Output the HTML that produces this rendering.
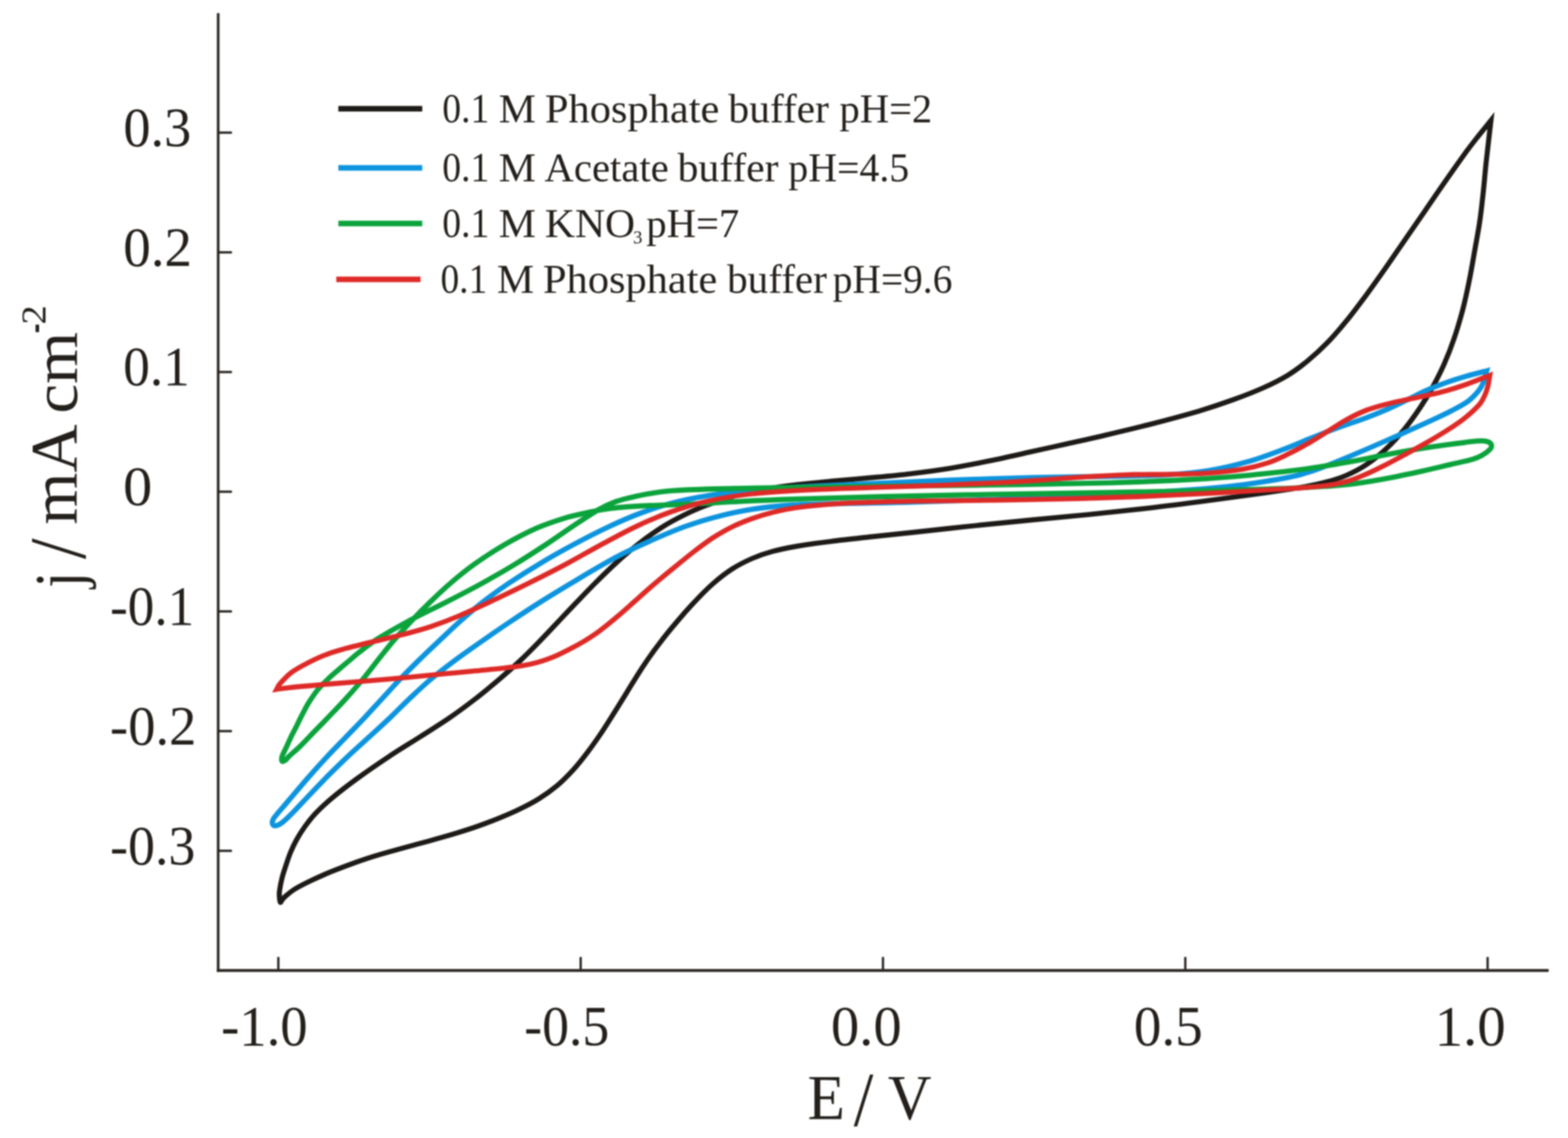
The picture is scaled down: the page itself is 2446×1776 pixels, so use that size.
<!DOCTYPE html>
<html lang="en"><head><meta charset="utf-8"><title>Cyclic voltammograms</title>
<style>html,body{margin:0;padding:0;background:#fff}body{width:2446px;height:1776px;overflow:hidden}svg{display:block}text{font-family:"Liberation Serif","DejaVu Serif",serif;font-size:100px;fill:#231f1b}.c{fill:none;stroke-linejoin:miter;stroke-miterlimit:10;stroke-linecap:butt}</style></head><body>
<svg xmlns="http://www.w3.org/2000/svg" width="2446" height="1776" viewBox="0 0 2446 1776">
<defs><filter id="soft" x="0" y="0" width="2446" height="1776" filterUnits="userSpaceOnUse" color-interpolation-filters="sRGB"><feGaussianBlur stdDeviation="1.00"/></filter></defs>
<rect width="2446" height="1776" fill="#fff"/>
<g filter="url(#soft)">
<rect width="2446" height="1776" fill="#fff"/>
<g fill="#2a2622">
<rect x="338.30" y="20.50" width="4.10" height="1496.30"/>
<rect x="338.30" y="1512.30" width="2077.50" height="4.50"/>
<rect x="341.90" y="205.20" width="19.90" height="3.60"/>
<rect x="341.90" y="392.00" width="19.90" height="3.60"/>
<rect x="341.90" y="578.80" width="19.90" height="3.60"/>
<rect x="341.90" y="765.60" width="19.90" height="3.60"/>
<rect x="341.90" y="952.40" width="19.90" height="3.60"/>
<rect x="341.90" y="1139.20" width="19.90" height="3.60"/>
<rect x="341.90" y="1326.00" width="19.90" height="3.60"/>
<rect x="432.40" y="1493.50" width="3.60" height="19.30"/>
<rect x="904.00" y="1493.50" width="3.60" height="19.30"/>
<rect x="1375.60" y="1493.50" width="3.60" height="19.30"/>
<rect x="1847.20" y="1493.50" width="3.60" height="19.30"/>
<rect x="2318.80" y="1493.50" width="3.60" height="19.30"/>
</g>
<g class="c">
<path stroke="#1d1a17" stroke-width="7.90" d="M2325.8 188.0C2324.6 198.8 2320.4 234.1 2318.4 252.6C2316.4 271.1 2315.6 283.5 2313.9 298.9C2312.2 314.3 2310.7 329.8 2308.4 345.2C2306.2 360.6 2303.1 376.1 2300.4 391.5C2297.7 406.9 2295.1 422.4 2292.0 437.8C2288.9 453.1 2285.6 468.7 2281.7 483.7C2277.7 498.7 2273.3 513.8 2268.4 528.0C2263.6 542.2 2258.2 556.0 2252.6 568.6C2247.0 581.3 2241.1 592.7 2234.9 604.0C2228.8 615.2 2222.7 625.1 2215.6 635.8C2208.4 646.6 2200.6 657.7 2191.9 668.4C2183.1 679.1 2172.9 690.5 2162.9 699.9C2153.0 709.3 2142.3 717.9 2132.0 724.8C2121.7 731.8 2111.4 737.0 2101.1 741.5C2090.8 746.0 2081.9 748.8 2070.3 751.9C2058.8 755.1 2048.5 757.3 2031.8 760.2C2015.1 763.2 1994.5 766.2 1970.0 769.7C1945.6 773.2 1914.7 777.3 1885.1 781.1C1855.5 785.0 1823.5 789.2 1792.5 792.8C1761.6 796.4 1729.4 799.8 1699.6 802.9C1669.8 805.9 1639.7 808.5 1613.8 811.0C1587.8 813.5 1565.8 815.7 1543.8 818.0C1521.8 820.2 1502.6 822.3 1482.1 824.5C1461.5 826.8 1440.9 829.0 1420.3 831.2C1399.8 833.4 1379.2 835.5 1358.7 837.7C1338.1 840.0 1316.2 842.3 1297.0 844.8C1277.7 847.2 1258.4 849.9 1242.9 852.5C1227.5 855.2 1215.9 857.6 1204.3 860.8C1192.8 863.9 1183.8 867.0 1173.5 871.5C1163.2 876.0 1152.9 881.1 1142.6 887.7C1132.3 894.3 1121.8 902.5 1111.7 911.4C1101.6 920.2 1091.5 930.9 1082.1 940.8C1072.8 950.7 1064.2 960.5 1055.5 970.9C1046.7 981.2 1038.0 991.8 1029.7 1002.8C1021.3 1013.7 1012.6 1026.0 1005.4 1036.7C998.1 1047.3 992.2 1057.2 986.3 1066.7C980.4 1076.2 975.5 1084.5 969.9 1093.4C964.4 1102.3 958.9 1111.2 953.2 1120.1C947.6 1129.0 941.9 1138.0 935.9 1146.9C929.8 1155.8 923.6 1164.7 916.8 1173.6C910.1 1182.5 903.1 1191.6 895.2 1200.3C887.3 1209.0 878.6 1217.9 869.5 1225.7C860.3 1233.4 850.2 1240.6 840.2 1246.8C830.2 1253.1 819.9 1258.2 809.5 1263.2C799.1 1268.3 788.5 1272.7 777.8 1277.1C767.0 1281.5 756.0 1285.6 745.0 1289.5C734.0 1293.4 723.1 1296.8 711.8 1300.2C700.4 1303.7 688.9 1306.9 677.0 1310.2C665.1 1313.6 651.9 1317.1 640.5 1320.2C629.1 1323.4 618.4 1326.2 608.6 1329.0C598.8 1331.7 591.6 1333.8 582.0 1336.8C572.4 1339.9 562.1 1343.3 551.1 1347.2C540.1 1351.2 526.9 1356.1 515.8 1360.7C504.6 1365.3 493.5 1370.4 484.2 1374.8C474.9 1379.3 466.5 1383.5 460.0 1387.5C453.5 1391.5 448.7 1395.9 445.3 1398.8C441.9 1401.7 441.1 1403.4 439.8 1405.0C438.5 1406.6 438.0 1409.0 437.3 1408.2C436.6 1407.4 436.1 1403.0 435.9 1400.0C435.7 1397.0 435.4 1395.0 436.1 1390.0C436.8 1385.0 438.3 1376.7 440.0 1370.0C441.7 1363.3 444.0 1356.7 446.2 1350.0C448.4 1343.3 450.5 1336.7 453.3 1330.0C456.1 1323.3 459.2 1316.7 462.9 1310.0C466.6 1303.3 470.8 1296.7 475.6 1290.0C480.4 1283.3 484.8 1277.3 491.7 1270.0C498.6 1262.7 506.1 1255.4 517.0 1246.2C527.9 1237.1 542.4 1225.8 557.2 1215.0C572.1 1204.2 589.6 1192.1 606.0 1181.2C622.3 1170.4 639.2 1160.2 655.2 1150.0C671.1 1139.8 687.1 1130.0 701.6 1120.0C716.2 1110.0 729.6 1099.9 742.4 1090.0C755.2 1080.1 766.8 1070.3 778.4 1060.5C789.9 1050.7 800.8 1041.0 811.5 1031.0C822.1 1021.0 832.2 1010.7 842.1 1000.5C852.0 990.3 861.5 980.1 871.0 970.0C880.5 959.9 889.8 950.0 899.4 940.0C909.0 930.0 918.4 920.1 928.5 910.0C938.6 899.9 948.8 889.7 960.0 879.5C971.2 869.3 983.6 858.5 995.8 849.0C1007.9 839.5 1021.1 830.2 1033.0 822.6C1045.0 815.0 1056.1 809.2 1067.7 803.5C1079.2 797.7 1090.6 793.0 1102.7 788.4C1114.7 783.8 1127.9 779.2 1139.7 775.6C1151.5 772.0 1162.7 769.4 1173.5 767.1C1184.2 764.8 1192.8 763.4 1204.3 761.7C1215.9 759.9 1227.5 758.3 1242.9 756.5C1258.4 754.8 1277.7 752.9 1296.9 751.0C1316.2 749.2 1338.1 747.5 1358.7 745.5C1379.2 743.6 1399.8 741.8 1420.3 739.3C1440.9 736.8 1461.5 734.1 1482.0 730.8C1502.6 727.4 1523.2 723.4 1543.8 719.2C1564.4 715.0 1586.2 710.0 1605.6 705.7C1625.0 701.5 1641.8 697.6 1660.0 693.6C1678.3 689.5 1692.9 686.5 1715.0 681.3C1737.1 676.1 1766.8 669.2 1792.6 662.6C1818.4 656.0 1847.9 648.1 1869.8 641.7C1891.6 635.2 1907.0 629.9 1923.8 623.8C1940.5 617.8 1955.9 611.8 1970.1 605.5C1984.2 599.2 1997.0 592.8 2008.6 585.8C2020.2 578.8 2029.2 571.9 2039.5 563.5C2049.8 555.0 2060.1 545.7 2070.4 535.1C2080.7 524.5 2090.9 512.4 2101.2 499.8C2111.5 487.1 2121.8 473.2 2132.1 459.3C2142.4 445.3 2152.7 430.7 2163.0 416.0C2173.3 401.3 2183.5 386.3 2193.8 371.3C2204.1 356.4 2214.4 341.4 2224.7 326.4C2235.0 311.4 2245.3 296.2 2255.6 281.5C2265.9 266.8 2278.0 249.5 2286.4 238.0C2294.8 226.5 2299.4 220.8 2306.0 212.5C2312.6 204.2 2322.5 192.1 2325.8 188.0Z"/>
<path stroke="#0d94de" stroke-width="8.10" d="M2319.0 578.8C2318.1 582.0 2315.8 592.6 2313.5 598.0C2311.2 603.4 2309.4 606.5 2305.5 611.2C2301.6 615.9 2296.9 621.2 2290.0 626.2C2283.1 631.2 2273.8 636.0 2264.2 641.1C2254.7 646.1 2245.0 650.5 2232.4 656.4C2219.8 662.2 2205.4 668.7 2188.7 676.1C2171.9 683.5 2150.5 693.0 2132.1 700.9C2113.6 708.8 2093.5 717.3 2078.1 723.4C2062.6 729.5 2051.1 733.9 2039.5 737.5C2027.9 741.2 2020.2 742.9 2008.6 745.3C1997.0 747.7 1985.5 749.6 1970.0 751.9C1954.6 754.3 1937.1 756.9 1916.0 759.2C1895.0 761.4 1875.6 763.3 1843.7 765.4C1811.7 767.6 1771.1 769.7 1724.5 771.9C1678.0 774.2 1615.1 777.0 1564.4 779.0C1513.7 780.9 1462.2 782.7 1420.2 783.8C1378.2 785.0 1343.1 785.2 1312.2 785.9C1281.4 786.7 1258.3 786.6 1235.1 788.1C1212.0 789.6 1193.2 791.7 1173.4 794.8C1153.7 797.9 1134.3 802.2 1116.7 806.8C1099.1 811.3 1084.3 816.1 1067.8 822.0C1051.4 828.0 1034.0 835.5 1018.0 842.5C1001.9 849.5 985.5 857.2 971.5 864.2C957.6 871.2 947.7 876.9 934.4 884.5C921.0 892.1 906.7 900.8 891.3 910.0C876.0 919.2 858.1 930.0 842.3 940.0C826.5 950.0 811.3 960.0 796.3 970.0C781.4 980.0 766.9 990.0 752.6 1000.0C738.3 1010.0 723.9 1020.0 710.5 1030.0C697.1 1040.0 684.0 1050.0 672.1 1060.0C660.2 1070.0 649.8 1080.0 639.2 1090.0C628.6 1100.0 619.1 1110.0 608.6 1120.0C598.0 1130.0 587.1 1139.8 576.0 1150.0C564.8 1160.2 553.2 1170.4 541.8 1181.2C530.3 1192.1 518.2 1204.0 507.4 1215.0C496.5 1226.0 485.4 1238.0 476.6 1247.2C467.8 1256.5 460.7 1264.3 454.6 1270.4C448.6 1276.4 444.2 1280.6 440.5 1283.5C436.8 1286.4 434.8 1287.2 432.5 1288.0C430.2 1288.8 428.3 1288.8 427.0 1288.2C425.7 1287.6 425.0 1286.0 424.8 1284.5C424.6 1283.0 425.1 1281.0 426.0 1279.0C426.9 1277.0 426.6 1277.3 430.5 1272.5C434.4 1267.7 441.5 1259.6 449.7 1250.0C457.9 1240.4 469.5 1226.5 479.5 1215.0C489.5 1203.5 499.8 1192.1 509.9 1181.2C519.9 1170.4 530.1 1160.2 539.9 1150.0C549.7 1139.8 559.4 1130.0 568.8 1120.0C578.2 1110.0 587.1 1100.0 596.4 1090.0C605.6 1080.0 614.5 1070.0 624.0 1060.0C633.6 1050.0 643.6 1040.0 653.8 1030.0C664.0 1020.0 674.6 1010.0 685.2 1000.0C695.8 990.0 706.1 980.0 717.3 970.0C728.6 960.0 739.8 950.0 752.6 940.0C765.4 930.0 779.2 920.0 794.0 910.0C808.9 900.0 824.9 889.9 841.7 879.9C858.5 869.8 877.0 859.4 894.9 849.8C912.8 840.1 931.8 830.4 949.4 822.1C966.9 813.9 983.6 806.6 1000.4 800.4C1017.2 794.1 1032.4 789.2 1050.0 784.7C1067.6 780.1 1085.8 776.5 1105.9 773.2C1126.0 770.0 1146.4 767.5 1170.5 765.2C1194.7 763.0 1219.3 761.5 1250.6 759.8C1282.0 758.0 1320.0 756.4 1358.6 754.7C1397.2 752.9 1440.0 750.9 1482.1 749.4C1524.1 747.8 1569.1 746.4 1610.8 745.4C1652.5 744.4 1697.2 744.1 1732.2 743.4C1767.1 742.6 1794.8 742.4 1820.2 740.9C1845.7 739.4 1863.9 737.8 1885.0 734.4C1906.1 731.0 1927.6 725.9 1946.9 720.4C1966.2 715.0 1985.5 707.5 2000.9 701.7C2016.4 696.0 2027.9 690.7 2039.5 686.1C2051.1 681.4 2060.1 677.8 2070.3 673.8C2080.6 669.9 2090.8 666.2 2101.1 662.5C2111.4 658.8 2121.7 655.6 2132.0 651.7C2142.3 647.8 2152.6 643.7 2162.9 639.2C2173.3 634.7 2183.5 629.6 2193.8 624.6C2204.1 619.7 2214.4 614.1 2224.7 609.5C2235.0 604.9 2245.3 601.0 2255.6 597.3C2265.9 593.6 2275.8 590.5 2286.4 587.4C2297.0 584.3 2313.6 580.2 2319.0 578.8Z"/>
<path stroke="#0ba33c" stroke-width="8.10" d="M440.0 1187.8C439.2 1186.7 439.0 1183.8 440.2 1180.0C441.4 1176.2 444.9 1170.0 447.2 1165.0C449.5 1160.0 451.4 1155.4 454.0 1150.0C456.6 1144.6 460.0 1138.3 462.8 1132.8C465.5 1127.2 467.5 1122.8 470.6 1116.9C473.7 1111.0 477.1 1103.9 481.2 1097.2C485.4 1090.6 490.3 1083.0 495.4 1076.8C500.4 1070.5 506.0 1065.1 511.5 1059.8C517.0 1054.4 523.0 1049.5 528.5 1044.8C534.0 1040.0 538.9 1036.0 544.2 1031.5C549.6 1027.0 553.1 1023.5 560.5 1017.8C568.0 1012.0 576.2 1005.1 589.0 997.0C601.9 988.9 620.0 978.6 637.8 969.0C655.7 959.4 677.0 949.4 696.1 939.6C715.2 929.8 734.1 920.2 752.1 910.2C770.2 900.3 787.7 890.2 804.2 880.1C820.7 870.1 836.2 860.0 851.4 850.0C866.6 840.0 881.9 829.0 895.6 819.9C909.3 810.8 923.0 801.5 933.8 795.4C944.6 789.2 952.0 786.0 960.4 782.9C968.7 779.7 975.2 778.6 983.8 776.5C992.5 774.4 1002.4 772.1 1012.3 770.5C1022.3 768.8 1033.3 767.3 1043.4 766.3C1053.6 765.3 1061.8 764.9 1073.3 764.4C1084.8 763.9 1093.3 763.6 1112.1 763.1C1130.9 762.7 1150.0 762.2 1186.0 761.6C1222.0 761.0 1269.9 760.3 1327.8 759.5C1385.8 758.8 1466.3 758.0 1533.7 757.0C1601.0 756.0 1675.4 755.1 1732.2 753.5C1789.0 751.8 1834.8 749.7 1874.5 747.4C1914.1 745.1 1942.5 742.1 1970.0 739.5C1997.5 736.8 2017.6 734.4 2039.5 731.5C2061.3 728.5 2080.5 725.2 2101.1 721.6C2121.7 718.0 2143.2 713.3 2162.9 709.6C2182.7 705.9 2202.9 702.3 2219.6 699.6C2236.3 696.9 2250.5 695.1 2263.4 693.3C2276.3 691.5 2288.8 689.9 2296.9 689.0C2305.1 688.1 2308.2 687.9 2312.3 688.0C2316.5 688.1 2319.4 688.7 2321.8 689.8C2324.2 690.9 2326.2 692.7 2326.6 694.6C2327.0 696.5 2326.9 698.4 2324.5 701.0C2322.1 703.6 2316.9 707.7 2312.3 710.3C2307.7 712.9 2305.1 714.4 2296.9 716.8C2288.8 719.2 2276.3 721.7 2263.4 724.8C2250.5 727.8 2236.3 731.3 2219.6 735.0C2202.9 738.7 2182.7 743.2 2162.9 746.7C2143.2 750.2 2125.6 753.6 2101.1 756.1C2076.7 758.7 2051.5 760.2 2016.2 761.8C1981.0 763.3 1937.2 764.4 1889.9 765.5C1842.5 766.7 1789.0 767.6 1732.2 768.6C1675.4 769.5 1608.7 770.4 1549.1 771.5C1489.4 772.6 1425.1 773.9 1374.0 775.1C1323.0 776.4 1279.4 777.7 1242.9 778.9C1206.4 780.1 1178.9 781.3 1155.1 782.5C1131.3 783.6 1115.9 784.7 1100.3 785.5C1084.7 786.3 1073.3 786.9 1061.2 787.4C1049.2 787.9 1038.7 788.1 1027.8 788.5C1016.8 788.9 1006.0 789.3 995.4 789.9C984.8 790.5 973.5 791.3 964.2 792.1C955.0 793.0 948.2 793.9 940.0 795.2C931.8 796.6 925.0 798.0 915.0 800.2C905.0 802.5 893.1 804.8 880.1 808.8C867.2 812.8 852.4 817.5 837.0 824.2C821.7 831.0 804.0 840.2 788.0 849.5C772.0 858.8 755.2 869.7 741.0 879.8C726.9 889.8 714.6 900.0 702.9 910.0C691.2 920.0 680.9 930.0 670.6 940.0C660.3 950.0 650.4 960.0 641.0 970.0C631.5 980.0 622.4 990.0 613.8 1000.0C605.3 1010.0 597.6 1020.0 589.6 1030.0C581.7 1040.0 574.3 1050.0 566.0 1060.0C557.8 1070.0 548.7 1080.2 539.9 1090.0C531.1 1099.8 521.5 1109.6 513.0 1118.5C504.5 1127.4 496.5 1135.5 489.0 1143.2C481.5 1151.0 474.2 1158.9 467.9 1165.0C461.6 1171.1 455.0 1176.4 451.2 1180.0C447.4 1183.6 446.9 1185.2 445.0 1186.5C443.1 1187.8 440.8 1188.9 440.0 1187.8Z"/>
<path stroke="#de2a27" stroke-width="7.80" d="M2324.0 585.8C2323.6 588.2 2322.8 595.3 2321.6 600.2C2320.4 605.1 2319.1 610.1 2317.0 615.0C2314.9 619.9 2312.8 624.7 2309.3 629.4C2305.8 634.1 2301.2 638.3 2296.2 642.9C2291.1 647.5 2285.8 652.0 2278.9 657.1C2271.9 662.2 2263.4 667.9 2254.3 673.5C2245.3 679.2 2234.8 685.4 2224.7 691.2C2214.6 697.0 2204.1 702.7 2193.8 708.3C2183.5 713.9 2173.3 719.5 2162.9 724.7C2152.6 729.9 2142.3 735.2 2132.0 739.6C2121.7 744.0 2112.7 748.1 2101.1 751.2C2089.5 754.4 2080.6 756.4 2062.6 758.5C2044.6 760.6 2021.5 761.9 1993.2 763.7C1964.9 765.5 1926.2 767.7 1892.8 769.5C1859.4 771.3 1827.3 773.0 1792.5 774.4C1757.8 775.8 1724.2 777.0 1684.1 778.0C1644.0 779.0 1596.0 779.8 1552.0 780.5C1508.0 781.2 1460.3 781.3 1420.4 782.1C1380.5 783.0 1342.0 784.0 1312.4 785.6C1282.8 787.3 1260.9 789.8 1242.9 792.1C1224.9 794.5 1215.9 797.2 1204.3 800.0C1192.8 802.8 1183.8 805.6 1173.5 809.2C1163.2 812.9 1152.8 816.9 1142.6 821.9C1132.4 826.9 1122.1 832.9 1112.3 839.1C1102.6 845.4 1093.2 852.7 1084.2 859.5C1075.3 866.3 1066.9 873.2 1058.6 880.0C1050.3 886.8 1042.2 893.3 1034.2 900.0C1026.2 906.7 1018.4 913.3 1010.8 920.0C1003.1 926.7 996.3 932.9 988.3 940.0C980.3 947.1 971.6 955.0 962.7 962.5C953.8 970.0 943.5 978.5 935.0 984.8C926.4 991.2 919.1 995.8 911.5 1000.5C903.8 1005.2 896.7 1009.0 888.8 1013.0C880.9 1017.1 872.3 1021.5 864.1 1024.9C855.9 1028.3 847.6 1031.2 839.4 1033.5C831.2 1035.8 824.0 1037.4 814.7 1038.9C805.4 1040.5 795.7 1041.5 783.7 1042.8C771.6 1044.2 756.9 1045.5 742.5 1046.9C728.1 1048.3 712.6 1049.7 697.5 1051.2C682.4 1052.7 666.9 1054.2 651.6 1055.7C636.3 1057.1 620.7 1058.6 605.7 1059.9C590.7 1061.2 575.9 1062.5 561.6 1063.7C547.3 1064.8 533.6 1065.9 520.0 1067.0C506.4 1068.1 491.7 1069.5 480.0 1070.5C468.3 1071.5 458.1 1072.4 450.0 1073.3C441.9 1074.2 434.6 1075.4 431.5 1075.8C432.1 1074.7 433.1 1071.9 435.0 1069.3C436.9 1066.7 439.9 1063.5 443.0 1060.3C446.1 1057.1 448.9 1053.7 453.5 1050.3C458.1 1046.9 464.4 1043.2 470.6 1039.7C476.8 1036.2 483.9 1032.5 490.8 1029.2C497.6 1026.0 503.4 1023.4 511.8 1020.5C520.1 1017.5 528.9 1014.9 541.0 1011.6C553.2 1008.4 569.8 1004.4 584.6 1000.8C599.4 997.2 615.1 993.8 629.8 990.0C644.4 986.2 657.9 982.7 672.5 977.8C687.1 972.8 701.8 967.2 717.6 960.5C733.5 953.8 749.6 946.2 767.5 937.8C785.4 929.3 805.5 919.7 825.0 910.0C844.6 900.3 865.5 889.7 884.6 879.5C903.7 869.3 921.8 858.6 939.7 849.0C957.7 839.4 974.7 829.9 992.4 821.6C1010.0 813.3 1026.8 805.9 1045.5 799.3C1064.3 792.7 1083.8 786.7 1104.6 782.0C1125.5 777.3 1146.2 773.8 1170.5 771.0C1194.9 768.1 1219.3 766.7 1250.6 765.0C1282.0 763.3 1321.3 762.2 1358.6 760.9C1395.9 759.5 1439.6 758.4 1474.3 757.1C1509.0 755.8 1539.9 754.4 1566.9 752.9C1594.0 751.5 1614.4 749.9 1636.4 748.4C1658.3 746.9 1677.7 745.1 1698.5 743.9C1719.3 742.6 1740.4 741.4 1761.2 740.8C1782.0 740.2 1802.8 740.7 1823.4 740.3C1844.1 739.9 1865.8 739.7 1885.1 738.3C1904.4 736.9 1923.8 734.7 1939.2 732.1C1954.6 729.4 1966.2 726.2 1977.8 722.4C1989.4 718.5 1998.3 714.0 2008.6 709.1C2018.9 704.1 2029.2 698.6 2039.5 692.7C2049.8 686.8 2060.1 680.0 2070.3 673.6C2080.6 667.3 2090.8 660.2 2101.1 654.6C2111.4 649.0 2121.7 644.0 2132.0 640.0C2142.3 636.1 2152.6 633.4 2162.9 630.7C2173.3 628.0 2183.5 626.0 2193.8 623.8C2204.1 621.6 2214.4 619.7 2224.7 617.4C2235.0 615.1 2245.3 612.9 2255.6 610.0C2265.9 607.1 2275.0 604.3 2286.4 600.3C2297.8 596.3 2317.7 588.2 2324.0 585.8Z"/>
</g>
<g>
<rect x="527.80" y="165.35" width="130.90" height="8.70" fill="#1d1a17"/>
<rect x="527.80" y="257.65" width="130.90" height="8.70" fill="#0d94de"/>
<rect x="527.80" y="344.45" width="130.90" height="8.70" fill="#0ba33c"/>
<rect x="524.60" y="431.65" width="131.40" height="8.70" fill="#de2a27"/>
</g>
<g>
<text transform="matrix(0.8470 0 0 0.8750 192.51 227.70)">0.3</text>
<text transform="matrix(0.8597 0 0 0.8750 192.16 414.50)">0.2</text>
<text transform="matrix(0.8313 0 0 0.8750 192.27 601.30)">0.1</text>
<text transform="matrix(0.9095 0 0 0.8750 191.96 788.10)">0</text>
<text transform="matrix(0.8283 0 0 0.8750 171.70 974.90)">-0.1</text>
<text transform="matrix(0.8517 0 0 0.8750 171.62 1161.70)">-0.2</text>
<text transform="matrix(0.8404 0 0 0.8750 171.66 1348.50)">-0.3</text>
<text transform="matrix(0.8523 0 0 0.8850 344.92 1630.60)">-1.0</text>
<text transform="matrix(0.8384 0 0 0.8850 817.77 1630.60)">-0.5</text>
<text transform="matrix(0.8821 0 0 0.8850 1296.27 1630.60)">0.0</text>
<text transform="matrix(0.8598 0 0 0.8850 1768.86 1630.60)">0.5</text>
<text transform="matrix(0.8875 0 0 0.8850 2237.91 1630.60)">1.0</text>
<text transform="matrix(0.9547 0 0 1.0000 1259.84 1746.00)">E</text>
<text transform="matrix(1.1018 0 0 1.2100 1331.80 1757.30)">/</text>
<text transform="matrix(0.9429 0 0 1.0000 1385.06 1745.50)">V</text>
<text transform="matrix(0 -0.8955 1.0650 0 127.30 917.31)">j</text>
<text transform="matrix(0 -1.1636 1.2400 0 133.20 872.60)">/</text>
<text transform="matrix(0 -1.0435 1.0300 0 120.20 818.69)">mA</text>
<text transform="matrix(0 -1.0446 1.0000 0 119.80 645.58)">cm</text>
<text transform="matrix(0 -0.4500 0.7500 0 75.80 519.88)">-</text>
<text transform="matrix(0 -0.6000 0.5400 0 71.00 506.40)">2</text>
<text transform="matrix(0.5861 0 0 0.6540 689.96 191.40)">0.1</text>
<text transform="matrix(0.6518 0 0 0.6260 777.94 191.40)">M</text>
<text transform="matrix(0.6621 0 0 0.6260 850.01 191.40)">Phosphate</text>
<text transform="matrix(0.6468 0 0 0.6260 1136.30 191.40)">buffer</text>
<text transform="matrix(0.6330 0 0 0.6260 1309.55 191.40)">pH=2</text>
<text transform="matrix(0.5861 0 0 0.6540 689.96 282.70)">0.1</text>
<text transform="matrix(0.6518 0 0 0.6260 777.94 282.70)">M</text>
<text transform="matrix(0.6352 0 0 0.6260 849.36 282.70)">Acetate</text>
<text transform="matrix(0.6497 0 0 0.6260 1057.00 282.70)">buffer</text>
<text transform="matrix(0.6205 0 0 0.6260 1229.87 282.70)">pH=4.5</text>
<text transform="matrix(0.5861 0 0 0.6540 689.96 370.00)">0.1</text>
<text transform="matrix(0.6518 0 0 0.6260 777.94 370.00)">M</text>
<text transform="matrix(0.6492 0 0 0.6260 850.05 370.00)">KNO</text>
<text transform="matrix(0.2927 0 0 0.3000 987.54 379.60)">3</text>
<text transform="matrix(0.6335 0 0 0.6260 1008.35 370.00)">pH=7</text>
<text transform="matrix(0.5817 0 0 0.6540 687.27 456.50)">0.1</text>
<text transform="matrix(0.6506 0 0 0.6260 775.35 456.50)">M</text>
<text transform="matrix(0.6616 0 0 0.6260 847.02 456.50)">Phosphate</text>
<text transform="matrix(0.6422 0 0 0.6260 1134.20 456.50)">buffer</text>
<text transform="matrix(0.6144 0 0 0.6260 1299.08 456.50)">pH=9.6</text>
</g>
</g>
</svg></body></html>
